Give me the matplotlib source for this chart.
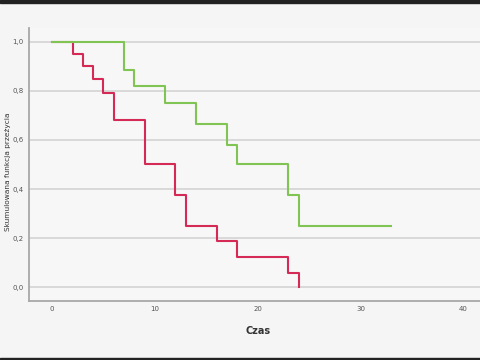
import numpy as np
import matplotlib.pyplot as plt

# Kaplan-Meier step data (time, survival)
red_time = [0, 2, 3, 4, 5, 6, 9, 12, 13, 16, 18, 23, 24]
red_surv = [1.0, 0.95, 0.90, 0.85, 0.79, 0.68, 0.50, 0.375, 0.25, 0.19, 0.125, 0.06, 0.0]

green_time = [0, 7, 8, 11, 14, 17, 18, 23, 24, 33]
green_surv = [1.0, 0.885, 0.82, 0.75, 0.665, 0.58, 0.50, 0.375, 0.25, 0.25]

x_ticks = [0, 10, 20, 30, 40]
y_ticks = [0.0, 0.2, 0.4, 0.6, 0.8, 1.0]
y_tick_labels = ["0,0", "0,2", "0,4", "0,6", "0,8", "1,0"]


def main():
    fig = plt.figure(figsize=(4.8, 3.6), dpi=100)
    fig.patch.set_facecolor('#f5f5f5')

    # thin dark strips at top and bottom of the screenshot
    fig.add_artist(plt.Rectangle((0, 1 - 3 / 360), 1, 3 / 360, transform=fig.transFigure,
                                 color='#222222', zorder=0))
    fig.add_artist(plt.Rectangle((0, 0), 1, 2 / 360, transform=fig.transFigure,
                                 color='#222222', zorder=0))

    ax = fig.add_axes([29.3 / 480, 59.3 / 360, 1 - 29.3 / 480, 272.7 / 360])
    ax.set_facecolor('#f7f7f7')

    for y in y_ticks:
        ax.axhline(y, color='#d4d4d4', lw=1.2, zorder=1)

    ax.step(red_time, red_surv, where='post', color='#d42a55', lw=1.5, zorder=3)
    ax.step(green_time, green_surv, where='post', color='#80c454', lw=1.5, zorder=3)

    ax.set_xlim(-2.21, 41.63)
    ax.set_ylim(-0.0546, 1.0558)

    ax.set_xticks(x_ticks)
    ax.set_yticks(y_ticks)
    ax.set_yticklabels(y_tick_labels)
    ax.tick_params(axis='y', length=0, labelsize=5, colors='#555555', pad=4)
    ax.tick_params(axis='x', length=0, labelsize=5, colors='#555555', pad=4)

    for side in ['top', 'right']:
        ax.spines[side].set_visible(False)
    for side in ['left', 'bottom']:
        ax.spines[side].set_color('#a8a8a8')
        ax.spines[side].set_linewidth(1.3)

    ax.set_xlabel('Czas', fontsize=7, fontweight='bold', color='#333333')
    ax.xaxis.set_label_coords((258 - 29.3) / 450.7, -(326 - 300.7) / 272.7)
    ax.set_ylabel('Skumulowana funkcja przeżycia', fontsize=5.3, color='#333333')
    ax.yaxis.set_label_coords(-(29.3 - 11) / 450.7, (300.7 - 172) / 272.7)

    fig.savefig('out.png', dpi=100, facecolor=fig.get_facecolor())
    plt.close(fig)


if __name__ == "__main__":
    main()
